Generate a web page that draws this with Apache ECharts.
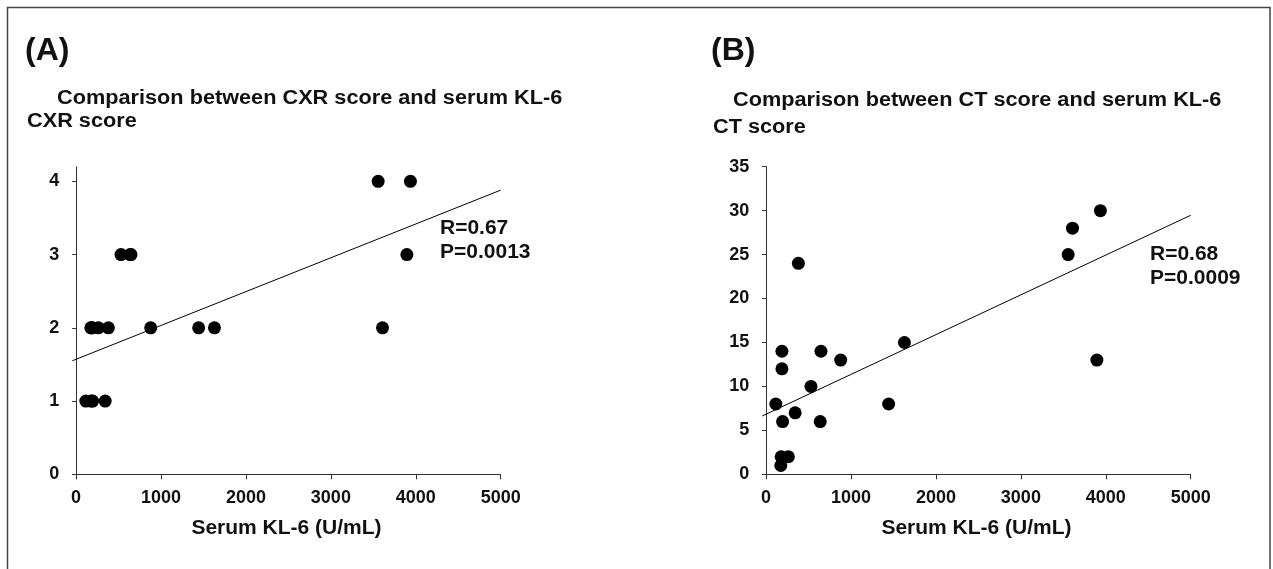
<!DOCTYPE html>
<html>
<head>
<meta charset="utf-8">
<script src="https://cdn.jsdelivr.net/npm/echarts@6/dist/echarts.min.js"></script>
<style>
html,body{margin:0;padding:0;background:#fff;}
#c{width:1273px;height:569px;}
</style>
</head>
<body>
<div id="c"></div>
<script>
// Serum KL-6 (U/mL) for each patient (same patients in both panels)
const kl6 = [3557, 3608, 3937, 3895, 380, 1629, 1443, 878, 646, 637, 528, 342, 114, 186, 186, 194, 177, 262, 173];
const cxrScore = [4, 2, 4, 3, 2, 2, 2, 2, 3, 3, 3, 1, 1, 2, 2, 1, 1, 2, 2];
const ctScore = [25, 28, 30, 13, 24, 15, 8, 13, 14, 6, 10, 7, 8, 14, 12, 6, 2, 2, 1];
// regression line end points
const trendX = [-45, 5000];
const trendCXR = [1.55, 3.88];
const trendCT = [6.64, 29.47];
const xTicks = [0, 1000, 2000, 3000, 4000, 5000];
const cxrTicks = [0, 1, 2, 3, 4];
const ctTicks = [0, 5, 10, 15, 20, 25, 30, 35];
const statsA = ['R=0.67', 'P=0.0013'];
const statsB = ['R=0.68', 'P=0.0009'];

const FONT = '"Liberation Sans", Arial, Helvetica, sans-serif';
const INK = '#111';
const AX = '#333';

function pts(xs, ys){ return xs.map((x,i)=>[x, ys[i]]); }
const plain = v => String(v);

function xAxisCfg(gi){
  return {
    type:'value', gridIndex:gi, min:-45, max:5000,
    name:'Serum KL-6 (U/mL)', nameLocation:'middle', nameGap:43,
    nameTextStyle:{fontFamily:FONT, fontWeight:'bold', fontSize:21, color:INK},
    axisLine:{show:true, lineStyle:{color:AX, width:1}},
    axisTick:{show:true, length:5, customValues:xTicks, lineStyle:{color:AX}},
    axisLabel:{customValues:xTicks, formatter:plain, margin:15, fontFamily:FONT, fontWeight:'bold', fontSize:18, color:INK},
    splitLine:{show:false}
  };
}
function yAxisCfg(gi, max, ticks){
  return {
    type:'value', gridIndex:gi, min:0, max:max,
    axisLine:{show:true, lineStyle:{color:AX, width:1}},
    axisTick:{show:true, length:4, customValues:ticks, lineStyle:{color:AX}},
    axisLabel:{customValues:ticks, formatter:plain, margin:13, fontFamily:FONT, fontWeight:'bold', fontSize:18, color:INK},
    splitLine:{show:false}
  };
}
function txt(x, y, s, size, sx){
  return {type:'text', x:x, y:y, scaleX:sx||1, style:{text:s, font:'bold '+size+'px '+FONT, fill:INK, textAlign:'left', textVerticalAlign:'top'}};
}

const chart = echarts.init(document.getElementById('c'), null, {renderer:'canvas'});
chart.setOption({
  backgroundColor:'#fff',
  animation:false,
  grid:[
    {left:72.3, top:166.7, width:428.4, height:307.6},
    {left:762.3, top:166.7, width:428.4, height:307.6}
  ],
  xAxis:[xAxisCfg(0), xAxisCfg(1)],
  yAxis:[yAxisCfg(0, 4.2, cxrTicks), yAxisCfg(1, 35, ctTicks)],
  series:[
    {type:'scatter', xAxisIndex:0, yAxisIndex:0, data:pts(kl6, cxrScore), symbol:'circle', symbolSize:13, itemStyle:{color:'#000', opacity:1}, z:3},
    {type:'line', xAxisIndex:0, yAxisIndex:0, data:pts(trendX, trendCXR), showSymbol:false, symbol:'none', lineStyle:{color:'#000', width:1}, z:2},
    {type:'scatter', xAxisIndex:1, yAxisIndex:1, data:pts(kl6, ctScore), symbol:'circle', symbolSize:13, itemStyle:{color:'#000', opacity:1}, z:3},
    {type:'line', xAxisIndex:1, yAxisIndex:1, data:pts(trendX, trendCT), showSymbol:false, symbol:'none', lineStyle:{color:'#000', width:1}, z:2}
  ],
  graphic:[
    {type:'rect', shape:{x:7.5, y:7.5, width:1262.5, height:600}, style:{fill:'none', stroke:'#444', lineWidth:1.5}},
    txt(25, 35, '(A)', 32, 1.0),
    txt(57, 88, 'Comparison between CXR score and serum KL-6', 20, 1.085),
    txt(27, 111, 'CXR score', 20, 1.085),
    txt(711, 35, '(B)', 32, 1.0),
    txt(733, 90, 'Comparison between CT score and serum KL-6', 20, 1.085),
    txt(713, 117, 'CT score', 20, 1.085),
    txt(440, 218, statsA[0], 20, 1.05),
    txt(440, 242, statsA[1], 20, 1.05),
    txt(1150, 244, statsB[0], 20, 1.05),
    txt(1150, 268, statsB[1], 20, 1.05)
  ]
});
</script>
</body>
</html>
